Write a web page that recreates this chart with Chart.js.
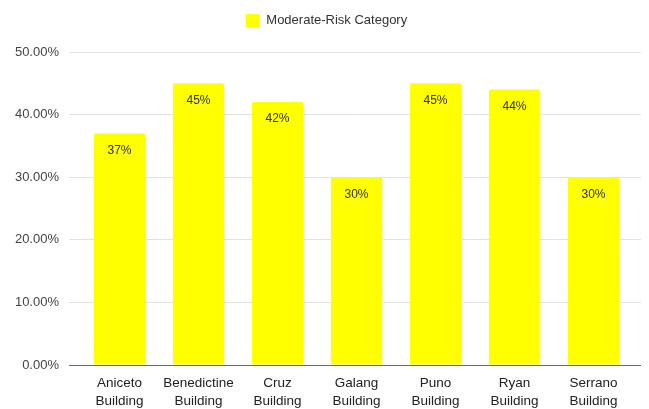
<!DOCTYPE html>
<html>
<head>
<meta charset="utf-8">
<script src="https://cdn.jsdelivr.net/npm/chart.js@4/dist/chart.umd.min.js"></script>
<style>
  html, body { margin: 0; padding: 0; background: #fff; }
  #wrap { width: 649px; height: 409px; }
</style>
</head>
<body>
<div id="wrap"><canvas id="chart" width="649" height="409"></canvas></div>
<script>
// Moderate-risk share per building
const buildings = [
  ['Aniceto', 'Building'],
  ['Benedictine', 'Building'],
  ['Cruz', 'Building'],
  ['Galang', 'Building'],
  ['Puno', 'Building'],
  ['Ryan', 'Building'],
  ['Serrano', 'Building'],
];
const moderateRisk = [0.37, 0.45, 0.42, 0.30, 0.45, 0.44, 0.30];
const barLabels = ['37%', '45%', '42%', '30%', '45%', '44%', '30%'];
const seriesName = 'Moderate-Risk Category';

const FONT = 'Liberation Sans, Arial, sans-serif';
const GRID = '#e2e2e2';
const AXIS = '#6a6a6a';

// grid colour: the zero line is the dark baseline
const gridColor = (c) => (c.tick && c.tick.value === 0 ? AXIS : GRID);

// value text just under the top of each bar
const valueLabels = {
  id: 'valueLabels',
  afterDatasetsDraw(chart) {
    const ctx = chart.ctx;
    const meta = chart.getDatasetMeta(0);
    ctx.save();
    ctx.font = '12px ' + FONT;
    ctx.fillStyle = '#2b2b2b';
    ctx.textAlign = 'center';
    ctx.textBaseline = 'middle';
    meta.data.forEach((bar, i) => {
      ctx.fillText(barLabels[i], bar.x, bar.y + 17);
    });
    ctx.restore();
  },
};

// a bit more room between the legend and the plot
const legendGap = {
  id: 'legendGap',
  beforeInit(chart) {
    const fit = chart.legend.fit;
    chart.legend.fit = function () {
      fit.call(this);
      this.height += 15;
    };
  },
};

new Chart(document.getElementById('chart'), {
  type: 'bar',
  data: {
    labels: buildings,
    datasets: [{
      label: seriesName,
      data: moderateRisk,
      backgroundColor: '#ffff00',
      borderWidth: 0,
      borderRadius: { topLeft: 2, topRight: 2 },
      borderSkipped: 'bottom',
      categoryPercentage: 1,
      barPercentage: 0.65,
    }],
  },
  options: {
    responsive: false,
    animation: false,
    layout: { padding: { top: 4, right: 8, bottom: 0, left: 12 } },
    plugins: {
      legend: {
        position: 'top',
        labels: {
          boxWidth: 14,
          boxHeight: 13,
          color: '#333',
          font: { family: FONT, size: 13 },
          padding: 10,
        },
      },
      tooltip: { enabled: false },
    },
    scales: {
      x: {
        grid: { display: false, drawTicks: false },
        border: { display: true, color: AXIS, width: 1 },
        ticks: {
          color: '#222',
          font: { family: FONT, size: 13.5, lineHeight: 1.33 },
          padding: 9,
          maxRotation: 0,
          autoSkip: false,
        },
        afterFit: (s) => { s.height = 44; },
      },
      y: {
        min: 0,
        max: 0.5,
        border: { display: false },
        grid: { color: gridColor, tickLength: 11, lineWidth: 1 },
        ticks: {
          stepSize: 0.1,
          color: '#444',
          font: { family: FONT, size: 13 },
          padding: 10,
          callback: (v) => (v * 100).toFixed(2) + '%',
        },
        afterFit: (s) => { s.width = 68; },
      },
      y2: {
        position: 'right',
        min: 0,
        max: 0.5,
        border: { display: false },
        grid: { color: gridColor, tickLength: 8, drawOnChartArea: false },
        ticks: { stepSize: 0.1, display: false },
        afterFit: (s) => { s.width = 8; },
      },
    },
  },
  plugins: [valueLabels, legendGap],
});
</script>
</body>
</html>
